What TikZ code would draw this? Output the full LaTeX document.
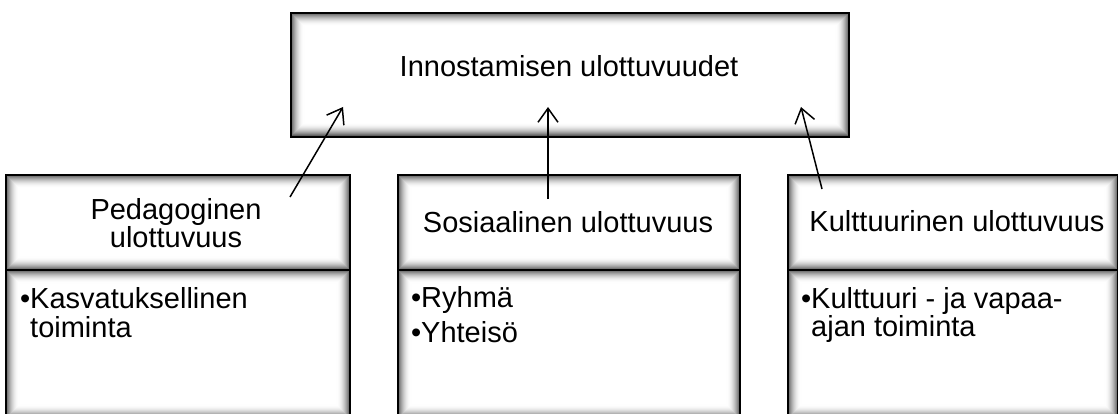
\documentclass[tikz,border=0pt]{standalone}
\usepackage{fontspec}
\setmainfont{Liberation Sans}
\usetikzlibrary{arrows.meta}

\tikzset{
  % white panel with a soft inner shadow along its edges
  panel/.style={draw=black, line width=1.8pt, fill=white, inner sep=0pt,
    anchor=north west,
    path picture={
      \foreach \i in {0,...,13}{
        \pgfmathsetmacro\glow{72*(1-\i/14)^2}
        \draw[black!\glow, line width=1.2pt]
          ([shift={(\i pt,\i pt)}]path picture bounding box.south west) rectangle
          ([shift={(-\i pt,-\i pt)}]path picture bounding box.north east);
      }}},
  caption/.style={font=\fontsize{29}{29}\selectfont, inner sep=0pt, anchor=base},
  bullettext/.style={font=\fontsize{29}{29}\selectfont, inner sep=0pt, anchor=base west},
  link/.style={-{Straight Barb[length=14pt,width=20pt]}, line width=1.5pt}
}

\begin{document}
\begin{tikzpicture}[x=1pt,y=-1pt]
  \useasboundingbox (0,0) rectangle (1118,414);
  \fill[white] (0,0) rectangle (1118,414);
  \clip (0,0) rectangle (1118,414);

  % top box
  \node[panel, minimum width=558pt, minimum height=124pt] (dims) at (290,12) {};
  \node[caption] (dimsText) at (569,77) {Innostamisen ulottuvuudet};

  % pedagogical dimension
  \node[panel, minimum width=344pt, minimum height=95pt] (pedHead) at (5,174) {};
  \node[panel, minimum width=344pt, minimum height=148pt] (pedBody) at (5,269) {};
  \node[caption] (pedA) at (176,219) {Pedagoginen};
  \node[caption] (pedB) at (176,247) {ulottuvuus};
  \node[bullettext] (pedItem1) at (30,308) {\llap{•}Kasvatuksellinen};
  \node[bullettext] (pedItem2) at (30,337) {toiminta};

  % social dimension
  \node[panel, minimum width=342pt, minimum height=95pt] (socHead) at (397,174) {};
  \node[panel, minimum width=342pt, minimum height=148pt] (socBody) at (397,269) {};
  \node[caption] (socText) at (568,232) {Sosiaalinen ulottuvuus};
  \node[bullettext] (socItem1) at (421,307) {\llap{•}Ryhmä};
  \node[bullettext] (socItem2) at (421,342) {\llap{•}Yhteisö};

  % cultural dimension
  \node[panel, minimum width=330pt, minimum height=95pt] (culHead) at (787,174) {};
  \node[panel, minimum width=330pt, minimum height=148pt] (culBody) at (787,269) {};
  \node[caption] (culText) at (957,231) {Kulttuurinen ulottuvuus};
  \node[bullettext] (culItem1) at (811,308) {\llap{•}Kulttuuri - ja vapaa-};
  \node[bullettext] (culItem2) at (811,336) {ajan toiminta};

  % arrow ends
  \coordinate (pedTail) at (290,197);
  \coordinate (pedTip) at (343,107);
  \coordinate (socTail) at (548,199);
  \coordinate (socTip) at (548,107);
  \coordinate (culTail) at (822,189);
  \coordinate (culTip) at (801,107);

  \draw[link] (pedTail) -- (pedTip);
  \draw[link] (socTail) -- (socTip);
  \draw[link] (culTail) -- (culTip);
\end{tikzpicture}
\end{document}
